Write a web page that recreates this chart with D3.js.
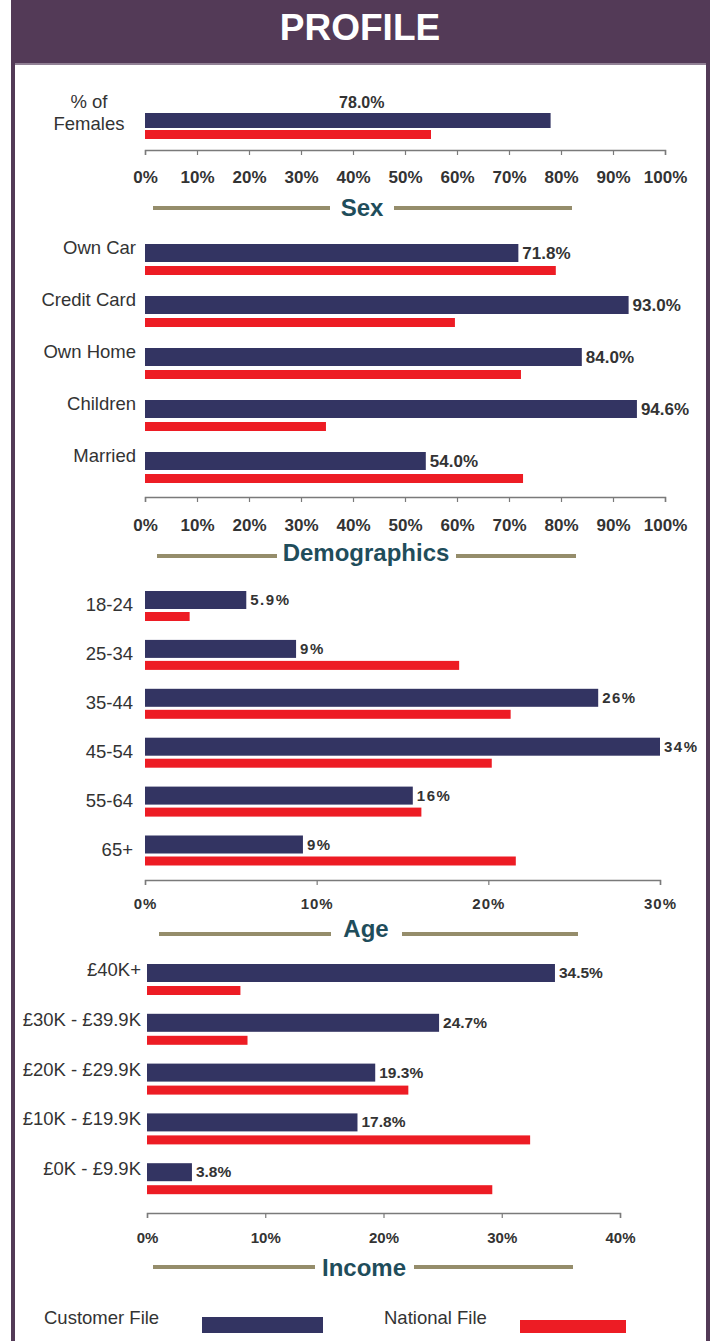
<!DOCTYPE html>
<html>
<head>
<meta charset="utf-8">
<script src="https://cdn.jsdelivr.net/npm/d3@7"></script>
<style>
  html, body { margin: 0; padding: 0; background: #ffffff; }
  svg { display: block; }
  .narrow { font-family: "Liberation Sans Narrow", "Arial Narrow", "Liberation Sans", Arial, sans-serif; }
  .wide { font-family: "Liberation Sans", Arial, sans-serif; }
</style>
</head>
<body>
<svg id="chart" width="716" height="1341"></svg>
<script>
// ---------- DATA ----------
const seriesNames = ["Customer File", "National File"];

const sexCategories = ["% of Females"];
const sexCustomer = [78.0];
const sexNational = [55.0];
const sexLabels = ["78.0%"];
const sexTicks = [0, 10, 20, 30, 40, 50, 60, 70, 80, 90, 100];

const demoCategories = ["Own Car", "Credit Card", "Own Home", "Children", "Married"];
const demoCustomer = [71.8, 93.0, 84.0, 94.6, 54.0];
const demoNational = [79.0, 59.6, 72.3, 34.8, 72.7];
const demoLabels = ["71.8%", "93.0%", "84.0%", "94.6%", "54.0%"];
const demoTicks = [0, 10, 20, 30, 40, 50, 60, 70, 80, 90, 100];

const ageCategories = ["18-24", "25-34", "35-44", "45-54", "55-64", "65+"];
const ageCustomer = [5.9, 8.8, 26.4, 34.0, 15.6, 9.2];
const ageNational = [2.6, 18.3, 21.3, 20.2, 16.1, 21.6];
const ageLabels = ["5.9%", "9%", "26%", "34%", "16%", "9%"];
const ageTicks = [0, 10, 20, 30];

const incomeCategories = ["£40K+", "£30K - £39.9K", "£20K - £29.9K", "£10K - £19.9K", "£0K - £9.9K"];
const incomeCustomer = [34.5, 24.7, 19.3, 17.8, 3.8];
const incomeNational = [7.9, 8.5, 22.1, 32.4, 29.2];
const incomeLabels = ["34.5%", "24.7%", "19.3%", "17.8%", "3.8%"];
const incomeTicks = [0, 10, 20, 30, 40];

// ---------- STYLE ----------
const C_BLUE = "#333462";
const C_RED = "#ED1C24";
const C_PURPLE = "#533A57";
const C_TITLE = "#1F4D5B";
const C_RULE = "#958D6B";
const C_TEXT = "#333333";
const C_AXIS = "#7a7a7a";

const svg = d3.select("#chart");

// frame
svg.append("rect").attr("x", 11).attr("y", 0).attr("width", 699).attr("height", 63).attr("fill", C_PURPLE);
svg.append("rect").attr("x", 13).attr("y", 63).attr("width", 695).attr("height", 1290)
   .attr("fill", "#ffffff").attr("stroke", C_PURPLE).attr("stroke-width", 4);
svg.append("line").attr("x1", 15).attr("x2", 706).attr("y1", 64).attr("y2", 64).attr("stroke", "#cfc7d3").attr("stroke-width", 1);
svg.append("text").attr("class", "wide").attr("x", 360).attr("y", 40)
   .attr("text-anchor", "middle").attr("fill", "#ffffff")
   .attr("font-size", 37).attr("font-weight", "bold").text("PROFILE");

function panel(o) {
  const g = svg.append("g");
  const x = d3.scaleLinear().domain(o.domain).range(o.xRange).clamp(true);
  const y = d3.scaleBand().domain(o.categories).range([o.top, o.top + o.step * o.categories.length]).paddingInner(0).paddingOuter(0);

  const rows = g.selectAll("g.row").data(o.categories).join("g").attr("class", "row");

  rows.append("rect")
    .attr("x", x(0)).attr("y", d => y(d))
    .attr("width", (d, i) => x(o.customer[i]) - x(0))
    .attr("height", o.blueH).attr("fill", C_BLUE);

  rows.append("rect")
    .attr("x", x(0)).attr("y", d => y(d) + o.redOff)
    .attr("width", (d, i) => x(o.national[i]) - x(0))
    .attr("height", o.redH).attr("fill", C_RED);

  // category labels
  rows.each(function (d) {
    const lines = o.catLines ? o.catLines[d] : [d];
    const t = d3.select(this).append("text")
      .attr("class", "narrow")
      .attr("text-anchor", o.catAnchor || "end")
      .attr("fill", C_TEXT).attr("font-size", o.catSize);
    lines.forEach((ln, k) => {
      t.append("tspan").attr("x", o.catX).attr("y", y(d) + o.catDy + k * o.catLineH).text(ln);
    });
  });

  // value labels
  rows.append("text")
    .attr("class", o.valClass)
    .attr("x", (d, i) => o.valMode === "above" ? (x(0) + x(o.customer[i])) / 2 + 14 : x(o.customer[i]) + 4)
    .attr("y", d => y(d) + o.valDy)
    .attr("text-anchor", o.valMode === "above" ? "middle" : "start")
    .attr("fill", C_TEXT).attr("font-size", o.valSize).attr("font-weight", "bold")
    .attr("letter-spacing", o.valSpacing || 0)
    .text((d, i) => o.labels[i]);

  // axis
  const axis = d3.axisBottom(x).tickValues(o.ticks).tickSize(5).tickSizeOuter(5)
    .tickPadding(o.tickPad).tickFormat(d => d + "%");
  const ag = g.append("g").attr("transform", `translate(0,${o.axisY})`).call(axis);
  ag.select(".domain").attr("stroke", C_AXIS).attr("stroke-width", 1.5);
  ag.selectAll(".tick line").attr("stroke", C_AXIS).attr("stroke-width", 1.2);
  ag.selectAll(".tick text").attr("class", o.tickClass).attr("fill", C_TEXT)
    .attr("font-size", o.tickSize).attr("font-weight", "bold")
    .attr("letter-spacing", o.tickSpacing || 0);

  // section title with rules
  svg.append("line").attr("x1", o.rule[0]).attr("x2", o.rule[1]).attr("y1", o.ruleY).attr("y2", o.ruleY)
    .attr("stroke", C_RULE).attr("stroke-width", 4);
  svg.append("line").attr("x1", o.rule[2]).attr("x2", o.rule[3]).attr("y1", o.ruleY).attr("y2", o.ruleY)
    .attr("stroke", C_RULE).attr("stroke-width", 4);
  svg.append("text").attr("class", "narrow").attr("x", o.titleX).attr("y", o.titleY)
    .attr("text-anchor", "middle").attr("fill", C_TITLE)
    .attr("font-size", o.titleSize).attr("font-weight", "bold").text(o.title);
}

panel({
  categories: sexCategories, customer: sexCustomer, national: sexNational, labels: sexLabels,
  domain: [0, 100], xRange: [145, 665], ticks: sexTicks,
  top: 113, step: 40, blueH: 15, redOff: 17, redH: 9,
  catX: 89, catAnchor: "middle", catDy: -5, catLineH: 22, catSize: 18.5,
  catLines: { "% of Females": ["% of", "Females"] },
  valMode: "above", valDy: -5, valSize: 16, valClass: "narrow",
  axisY: 150, tickPad: 16, tickSize: 17, tickClass: "narrow",
  title: "Sex", titleX: 362, titleY: 216, titleSize: 24, rule: [153, 330, 394, 572], ruleY: 208
});

panel({
  categories: demoCategories, customer: demoCustomer, national: demoNational, labels: demoLabels,
  domain: [0, 100], xRange: [145, 665], ticks: demoTicks,
  top: 244, step: 52, blueH: 18, redOff: 22, redH: 9,
  catX: 136, catDy: 10, catLineH: 0, catSize: 18.5,
  valMode: "end", valDy: 15, valSize: 17, valClass: "narrow",
  axisY: 497, tickPad: 17, tickSize: 17, tickClass: "narrow",
  title: "Demographics", titleX: 366, titleY: 561, titleSize: 24, rule: [157, 277, 456, 576], ruleY: 556
});

panel({
  categories: ageCategories, customer: ageCustomer, national: ageNational, labels: ageLabels,
  domain: [0, 30], xRange: [145, 660], ticks: ageTicks,
  top: 591, step: 48.9, blueH: 18, redOff: 21, redH: 9,
  catX: 133, catDy: 20, catLineH: 0, catSize: 18.5,
  valMode: "end", valDy: 14, valSize: 15, valClass: "wide", valSpacing: 1.5,
  axisY: 880, tickPad: 13, tickSize: 15, tickClass: "wide", tickSpacing: 1,
  title: "Age", titleX: 366, titleY: 937, titleSize: 24, rule: [159, 331, 402, 578], ruleY: 934
});

panel({
  categories: incomeCategories, customer: incomeCustomer, national: incomeNational, labels: incomeLabels,
  domain: [0, 40], xRange: [147, 620], ticks: incomeTicks,
  top: 964, step: 49.8, blueH: 18, redOff: 22, redH: 9,
  catX: 141, catDy: 12, catLineH: 0, catSize: 18.5,
  valMode: "end", valDy: 14, valSize: 15.5, valClass: "narrow",
  axisY: 1213, tickPad: 14, tickSize: 15, tickClass: "narrow",
  title: "Income", titleX: 364, titleY: 1276, titleSize: 24, rule: [153, 315, 414, 573], ruleY: 1267
});

// legend
const legendX = [44, 384];
const legendRect = [[202, 1317, 121, 16], [520, 1320, 106, 13]];
const legendColors = [C_BLUE, C_RED];
seriesNames.forEach((name, i) => {
  svg.append("text").attr("class", "narrow").attr("x", legendX[i]).attr("y", 1324)
    .attr("fill", C_TEXT).attr("font-size", 18.5).text(name);
  svg.append("rect").attr("x", legendRect[i][0]).attr("y", legendRect[i][1])
    .attr("width", legendRect[i][2]).attr("height", legendRect[i][3]).attr("fill", legendColors[i]);
});
</script>
</body>
</html>
